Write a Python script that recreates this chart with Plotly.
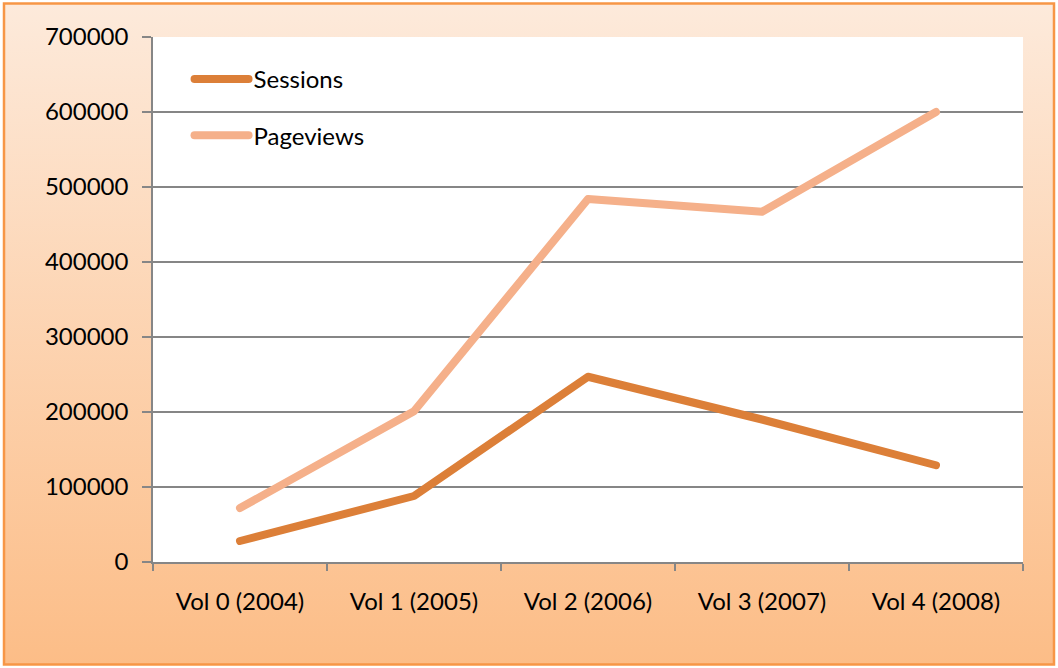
import base64
import plotly.graph_objects as go

categories = ["Vol 0 (2004)", "Vol 1 (2005)", "Vol 2 (2006)", "Vol 3 (2007)", "Vol 4 (2008)"]
sessions = [28000, 88000, 247000, 190000, 129000]
pageviews = [72000, 201000, 484000, 467000, 600000]
y_ticks = [0, 100000, 200000, 300000, 400000, 500000, 600000, 700000]
y_ticktext = [str(v) for v in y_ticks]

W, H = 1058, 668
L, R, T, B = 153, 35, 37, 106
PW, PH = W - L - R, H - T - B

svg = (
    f'<svg xmlns="http://www.w3.org/2000/svg" width="{W}" height="{H}" viewBox="0 0 {W} {H}" preserveAspectRatio="none">'
    '<defs><linearGradient id="g" x1="0" y1="0" x2="0" y2="1">'
    '<stop offset="0" stop-color="#FDEADB"/><stop offset="1" stop-color="#FCBD87"/>'
    '</linearGradient></defs>'
    f'<rect x="4" y="3.5" width="{W-8}" height="{H-7}" fill="url(#g)" stroke="#F79646" stroke-width="2.5"/>'
    '</svg>'
)
bg_src = "data:image/svg+xml;base64," + base64.b64encode(svg.encode()).decode()

FONT = "Lato"
FS = 24

fig = go.Figure()
fig.add_trace(go.Scatter(x=categories, y=sessions, name="Sessions", mode="lines",
                         line=dict(color="#DC7F38", width=8), legendgroup="a"))
fig.add_trace(go.Scatter(x=categories, y=pageviews, name="Pageviews", mode="lines",
                         line=dict(color="#F5B08A", width=8), legendgroup="b"))

fig.update_layout(
    width=W, height=H,
    margin=dict(l=L, r=R, t=T, b=B),
    paper_bgcolor="white",
    plot_bgcolor="white",
    font=dict(family=FONT, size=FS, color="black"),
    showlegend=True,
    legend=dict(x=0.042, y=0.962, xanchor="left", yanchor="top",
                bgcolor="rgba(0,0,0,0)", tracegroupgap=22, itemwidth=54,
                font=dict(family=FONT, size=FS, color="black"),
                traceorder="grouped"),
    images=[dict(source=bg_src, xref="paper", yref="paper",
                 x=-L / PW, y=1 + T / PH, sizex=W / PW, sizey=H / PH,
                 xanchor="left", yanchor="top", sizing="stretch", layer="below")],
    shapes=[dict(type="rect", xref="x domain", yref="y domain", x0=0, x1=1, y0=0, y1=1,
                 fillcolor="white", line=dict(width=0), layer="below")],
)
fig.update_xaxes(type="category", range=[-0.5, 4.5], showgrid=False,
                 showline=True, linecolor="#868686", linewidth=1.5,
                 ticks="outside", tickson="boundaries", ticklen=7, tickcolor="#868686",
                 tickwidth=1.5, tickfont=dict(family=FONT, size=FS), ticklabelstandoff=17)
fig.update_yaxes(range=[0, 700000], tickvals=y_ticks, ticktext=y_ticktext,
                 showgrid=True, gridcolor="#868686", gridwidth=1.5,
                 showline=True, linecolor="#868686", linewidth=1.5,
                 ticks="outside", ticklen=9, tickcolor="#868686", tickwidth=1.5,
                 zeroline=False, tickfont=dict(family=FONT, size=FS), ticklabelstandoff=9)

post = (
    "document.body.style.margin='0';"
    "document.querySelectorAll('.scatterlayer .js-line, .legendlines path')"
    ".forEach(function(p){p.style.strokeLinecap='round';p.style.strokeLinejoin='round';});"
)
fig.write_html("out.html", config={"displayModeBar": False}, post_script=post)
